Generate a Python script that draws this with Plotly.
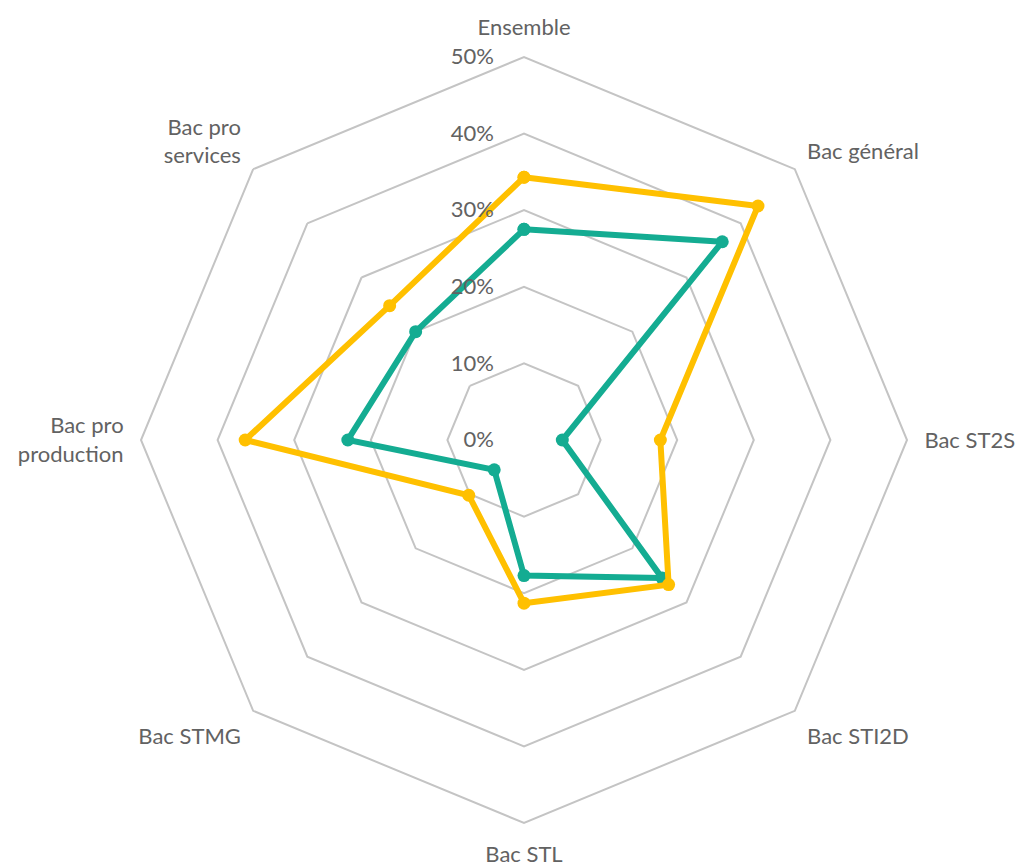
import plotly.graph_objects as go

categories = ["Ensemble", "Bac général", "Bac ST2S", "Bac STI2D", "Bac STL",
              "Bac STMG", "Bac pro<br>production", "Bac pro<br>services"]
serie_or = [34.3, 43.2, 17.8, 26.7, 21.3, 10.2, 36.4, 24.8]
serie_vert = [27.5, 36.6, 5.0, 25.5, 17.7, 5.5, 23.0, 20.0]
radial_ticks = [0, 10, 20, 30, 40, 50]
radial_labels = ["0%", "10%", "20%", "30%", "40%", "50%"]

GOLD = "#FFC000"
TEAL = "#14AC92"
GRID = "#C4C4C4"
TXT = "#626262"

fig = go.Figure()
for vals, col in [(serie_vert, TEAL), (serie_or, GOLD)]:
    fig.add_trace(go.Scatterpolar(
        r=vals + vals[:1],
        theta=categories + categories[:1],
        mode="lines+markers",
        line=dict(color=col, width=6),
        marker=dict(color=col, size=13),
        showlegend=False,
        hoverinfo="skip",
    ))

W, H = 1019, 867
cx, cy, R = 524, 440, 383
fig.update_layout(
    width=W, height=H,
    margin=dict(l=0, r=0, t=0, b=0),
    paper_bgcolor="white",
    plot_bgcolor="white",
    font=dict(family="Lato, 'Open Sans', sans-serif", color=TXT, size=22),
    polar=dict(
        domain=dict(x=[(cx - R) / W, (cx + R) / W],
                    y=[(H - cy - R) / H, (H - cy + R) / H]),
        gridshape="linear",
        bgcolor="white",
        radialaxis=dict(
            range=[0, 50],
            tickvals=radial_ticks,
            ticktext=radial_labels,
            angle=90,
            tickangle=90,
            side="counterclockwise",
            showline=False,
            ticks="outside",
            ticklen=22,
            tickcolor="rgba(0,0,0,0)",
            gridcolor=GRID,
            gridwidth=2,
            tickfont=dict(size=22, color=TXT),
        ),
        angularaxis=dict(
            type="category",
            categoryarray=categories,
            rotation=90,
            direction="clockwise",
            showgrid=False,
            showline=True,
            linecolor=GRID,
            linewidth=2,
            ticks="outside",
            ticklen=12,
            tickcolor="rgba(0,0,0,0)",
            tickfont=dict(size=22, color=TXT),
        ),
    ),
)

fig.write_html(
    "out.html",
    config={"displayModeBar": False},
    post_script="document.body.style.margin='0';document.body.style.overflow='hidden';",
)
